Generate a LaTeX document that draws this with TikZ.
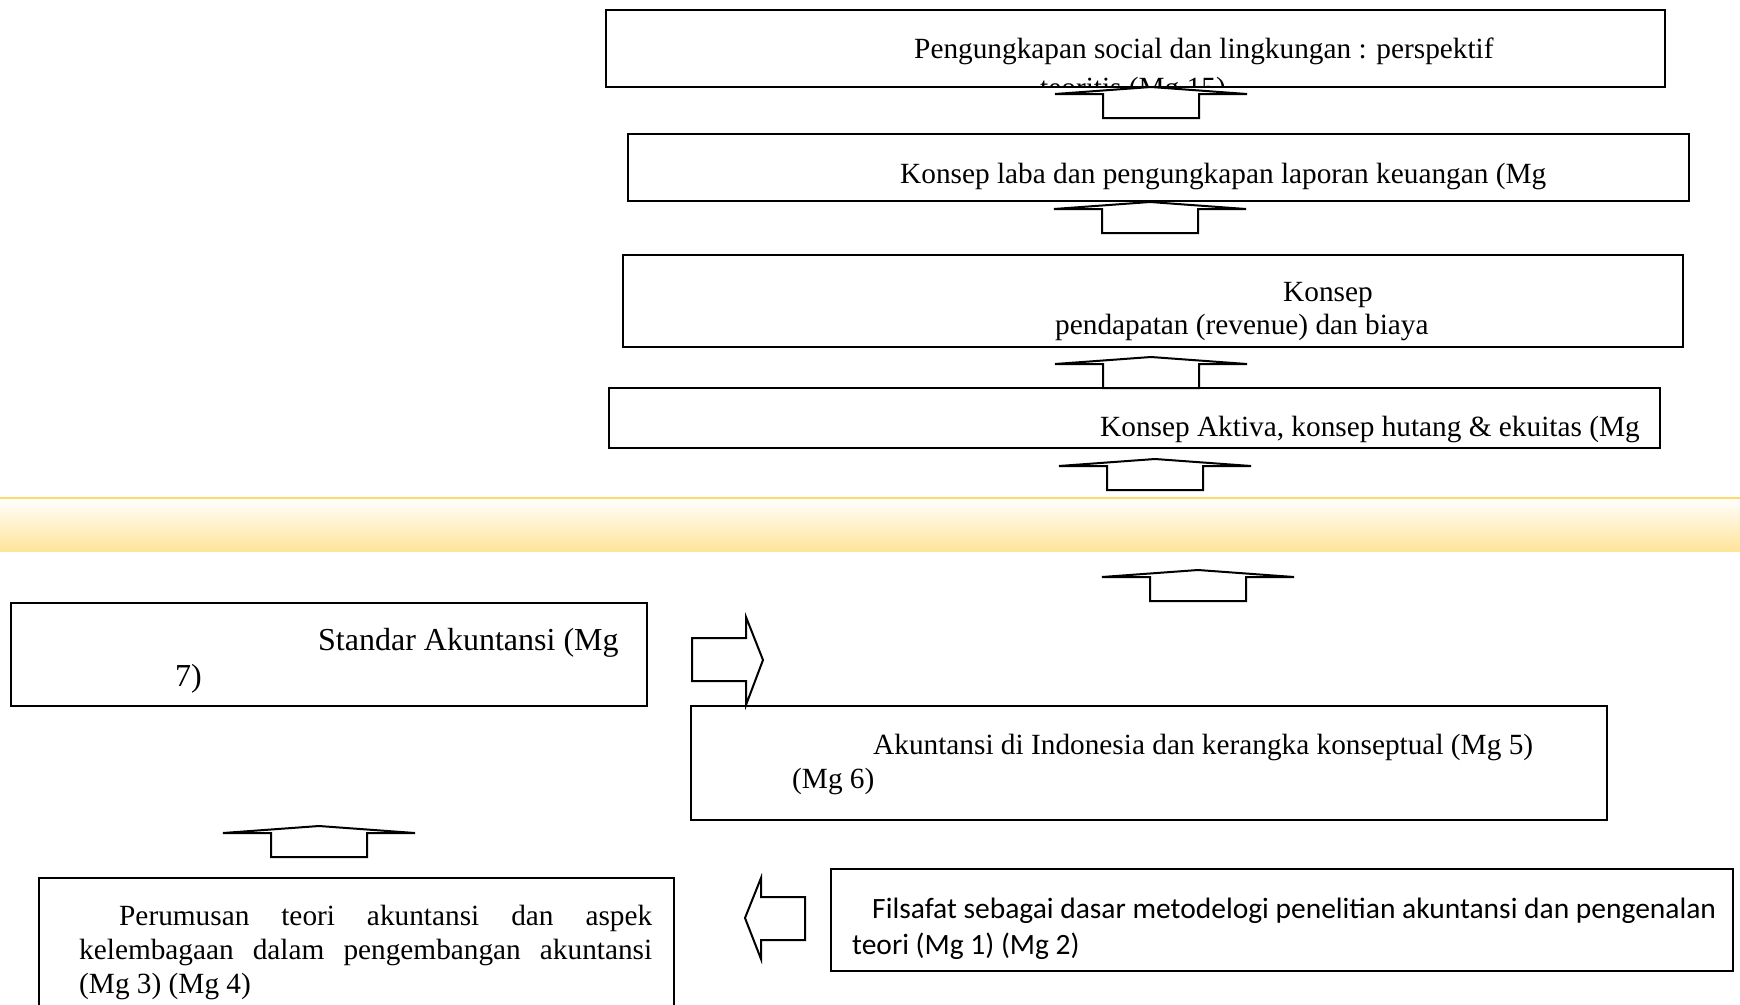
\documentclass[tikz,border=0pt]{standalone}
\usepackage{fontspec}
\setmainfont{Liberation Serif}
\newfontfamily\calfont{Carlito}
\usetikzlibrary{positioning}

\definecolor{bandline}{RGB}{255,217,102}
\definecolor{bandfill}{RGB}{255,228,153}

\tikzset{
  box/.style={draw, line width=2pt, rectangle, inner sep=0pt},
  txt/.style={inner sep=0pt, anchor=mid west, font=\fontsize{29.3}{34}\selectfont},
  ftxt/.style={inner sep=0pt, anchor=mid west, font=\calfont\fontsize{29.5}{36}\selectfont},
  arr/.style={draw, line width=2pt, line join=miter, fill=white},
  uparr/.pic={\path[arr] (0,0) -- (96,7) -- (48,7) -- (48,31) -- (-48,31) -- (-48,7) -- (-96,7) -- cycle;},
  rtarr/.pic={\path[arr] (0,0) -- (-17,45) -- (-17,21) -- (-71,21) -- (-71,-22) -- (-17,-22) -- (-17,-43) -- cycle;},
  ltarr/.pic={\path[arr] (0,0) -- (16,-40) -- (16,-21) -- (60,-21) -- (60,22) -- (16,22) -- (16,41) -- cycle;},
}

\begin{document}
\begin{tikzpicture}[x=1pt,y=-1pt]
\useasboundingbox (0,0) rectangle (1740,1004);

% band across the page
\shade [top color=white, bottom color=bandfill] (0,498) rectangle (1740,551);
\draw [bandline, line width=1.5pt] (0,498) -- (1740,498);

% upper column
\node[box, minimum width=1059pt, minimum height=77pt] (sosial) at (1135.5,48.5) {};
\begin{scope}
\clip (607,11) rectangle (1664,85);
\node[txt] (t1a) at (914,56) {Pengungkapan social dan lingkungan : perspektif};
\node[txt] (t1b) at (1040,95) {teoritis (Mg 15)};
\end{scope}
\node[box, minimum width=1061pt, minimum height=67pt] (laba) at (1158.5,167.5) {};
\node[txt] (t2) at (900,181) {Konsep laba dan pengungkapan laporan keuangan (Mg};
\node[box, minimum width=1060pt, minimum height=92pt] (biaya) at (1153,301) {};
\node[txt] (t3a) at (1283,299) {Konsep};
\node[txt] (t3b) at (1055,332) {pendapatan (revenue) dan biaya};
\node[box, minimum width=1051pt, minimum height=60pt] (aktiva) at (1134.5,418) {};
\node[txt] (t4) at (1100,434) {Konsep Aktiva, konsep hutang \& ekuitas (Mg};

\pic at (1151,87) {uparr};
\pic at (1150,202) {uparr};
\pic at (1151,357) {uparr};
\pic at (1155,459) {uparr};

% lower part
\pic at (1198,570) {uparr};
\node[box, minimum width=636pt, minimum height=103pt] (standar) at (329,654.5) {};
\node[txt, font=\fontsize{32}{36}\selectfont] (t5a) at (318,648) {Standar Akuntansi (Mg};
\node[txt, font=\fontsize{32}{36}\selectfont] (t5b) at (175,684) {7)};
\pic at (763,660) {rtarr};
\node[box, minimum width=916pt, minimum height=114pt] (indonesia) at (1149,763) {};
\node[txt] (t6a) at (873,752) {Akuntansi di Indonesia dan kerangka konseptual (Mg 5)};
\node[txt] (t6b) at (792,786) {(Mg 6)};
\pic at (319,826) {uparr};
\node[box, minimum width=635pt, minimum height=132pt] (perumusan) at (356.5,944) {};
\node[inner sep=0pt, anchor=north west, text width=573pt, align=justify,
  font=\fontsize{29.3}{34}\selectfont] (t7) at (79,905)
  {\hspace*{40pt}Perumusan teori akuntansi dan aspek\linebreak kelembagaan dalam pengembangan akuntansi\linebreak (Mg 3) (Mg 4)};
\pic at (745,918) {ltarr};
\node[box, minimum width=902pt, minimum height=102pt] (filsafat) at (1282,920) {};
\node[ftxt] (t8a) at (872,916) {Filsafat sebagai dasar metodelogi penelitian akuntansi dan pengenalan};
\node[ftxt] (t8b) at (852,952) {teori (Mg 1) (Mg 2)};
\end{tikzpicture}
\end{document}
